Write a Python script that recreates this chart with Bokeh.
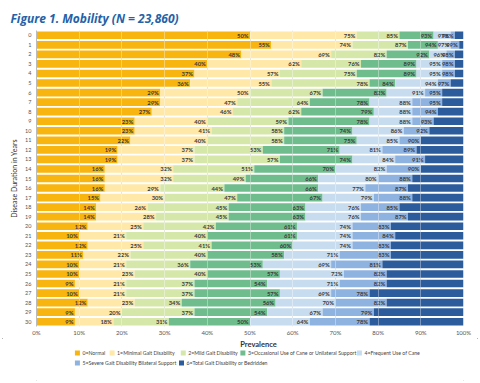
from bokeh.plotting import figure
from bokeh.layouts import column
from bokeh.models import (ColumnDataSource, Range1d, FixedTicker, PrintfTickFormatter, Grid,
                          InlineStyleSheet)
from bokeh.core.properties import value
from bokeh.embed import file_html
from bokeh.resources import INLINE

durations = list(range(31))
categories = ["0=Normal", "1=Minimal Gait Disability", "2=Mild Gait Disability",
              "3=Occasional Use of Cane or Unilateral Support", "4=Frequent Use of Cane",
              "5=Severe Gait Disability Bilateral Support", "6=Total Gait Disability or Bedridden"]
colors = ["#F9B50F", "#FFE8A8", "#D6E8A9", "#6FBD8D", "#C8DCF0", "#8FB3E0", "#2D5C9C"]

# cumulative prevalence (%) at the end of each level, per disease-duration year
cum0 = [50, 55, 48, 40, 37, 36, 29, 29, 27, 23, 23, 22, 19, 19, 16, 16, 16, 15, 14, 14, 12, 10, 12, 11, 10, 10, 9, 10, 12, 9, 9]
cum1 = [75, 74, 69, 62, 57, 55, 50, 47, 46, 40, 41, 40, 37, 37, 32, 32, 29, 30, 26, 28, 25, 21, 25, 22, 21, 23, 21, 21, 23, 20, 18]
cum2 = [85, 87, 82, 76, 75, 78, 67, 64, 62, 59, 58, 58, 53, 57, 51, 49, 44, 47, 45, 45, 42, 40, 41, 40, 36, 40, 37, 37, 34, 37, 31]
cum3 = [93, 94, 92, 89, 89, 84, 82, 78, 79, 78, 74, 75, 71, 74, 70, 66, 66, 67, 63, 63, 61, 61, 60, 58, 53, 57, 54, 57, 56, 54, 50]
cum4 = [97, 97, 96, 95, 95, 94, 91, 88, 88, 88, 86, 85, 81, 84, 82, 80, 77, 79, 76, 76, 74, 74, 74, 71, 69, 72, 71, 69, 70, 67, 64]
cum5 = [98, 99, 98, 98, 98, 97, 95, 95, 94, 93, 92, 90, 89, 91, 90, 88, 87, 88, 85, 87, 83, 84, 83, 83, 81, 82, 82, 78, 82, 79, 78]
cum6 = [100] * 31
x_ticks = [0, 10, 20, 30, 40, 50, 60, 70, 80, 90, 100]

cums = [cum0, cum1, cum2, cum3, cum4, cum5, cum6]
FONT = "Lato"

p = figure(width=480, height=338, output_backend="svg", toolbar_location=None,
           x_range=Range1d(0, 100), y_range=Range1d(30.5, -0.5),
           min_border_left=36, min_border_right=17, min_border_top=30, min_border_bottom=12)
p.outline_line_color = None
p.background_fill_color = "#FFFFFF"

for k in range(7):
    left = [0] * 31 if k == 0 else cums[k - 1]
    src = ColumnDataSource(dict(y=durations, left=left, right=cums[k]))
    p.hbar(y="y", left="left", right="right", height=0.8, source=src,
           fill_color=colors[k], line_color=None)

lx, ly, lt = [], [], []
for k in range(6):
    for i in durations:
        lx.append(cums[k][i])
        ly.append(i)
        lt.append(f"{cums[k][i]}%")
lsrc = ColumnDataSource(dict(x=lx, y=ly, t=lt))
p.text(x="x", y="y", text="t", source=lsrc, text_align="right", text_baseline="middle",
       x_offset=-1.5, text_font=value(FONT), text_font_size="5.8px", text_font_style="bold",
       text_color="#3a3a3a")

# grids
p.ygrid.visible = False
p.xgrid.ticker = FixedTicker(ticks=x_ticks)
p.xgrid.grid_line_color = "#d8d8d8"
over = Grid(dimension=0, ticker=FixedTicker(ticks=x_ticks), grid_line_color="#ffffff",
            grid_line_alpha=0.35, level="overlay")
p.add_layout(over)

# title
p.title.text = "Figure 1. Mobility (N = 23,860)"
p.title.text_font = "Open Sans"
p.title.text_font_size = "12px"
p.title.text_font_style = "bold italic"
p.title.text_color = "#2462A8"
p.title.align = "left"
p.title.offset = -26
p.title.standoff = 8

# axes
p.xaxis.ticker = FixedTicker(ticks=x_ticks)
p.xaxis.formatter = PrintfTickFormatter(format="%d%%")
p.xaxis.axis_line_color = None
p.xaxis.major_tick_line_color = None
p.xaxis.major_tick_out = 0
p.xaxis.major_tick_in = 0
p.xaxis.minor_tick_line_color = None
p.xaxis.major_label_text_font = FONT
p.xaxis.major_label_text_font_size = "6px"
p.xaxis.major_label_text_color = "#555555"
p.xaxis.major_label_standoff = 2

p.yaxis.ticker = FixedTicker(ticks=durations)
p.yaxis.axis_line_color = "#bbbbbb"
p.yaxis.major_tick_line_color = None
p.yaxis.major_tick_out = 0
p.yaxis.major_tick_in = 0
p.yaxis.minor_tick_line_color = None
p.yaxis.major_label_text_font = FONT
p.yaxis.major_label_text_font_size = "5.5px"
p.yaxis.major_label_text_color = "#555555"
p.yaxis.major_label_standoff = 5
p.yaxis.axis_label = "Disease Duration in Years"
p.yaxis.axis_label_text_font = FONT
p.yaxis.axis_label_text_font_size = "7px"
p.yaxis.axis_label_text_font_style = "normal"
p.yaxis.axis_label_text_color = "#333333"
p.yaxis.axis_label_standoff = 4

# lower strip: x-axis title and the two-row legend (coordinates = page pixels)
lg = figure(width=480, height=45, output_backend="svg", toolbar_location=None,
            x_range=Range1d(0, 480), y_range=Range1d(383, 338),
            min_border_left=0, min_border_right=0, min_border_top=0, min_border_bottom=0)
lg.axis.visible = False
lg.grid.visible = False
lg.outline_line_color = None
lg.text(x=[249.5], y=[343.5], text=["Prevalence"], text_align="center", text_baseline="middle",
        text_font=value(FONT), text_font_size="7.5px", text_font_style="bold", text_color="#333333")

leg_x = [46, 85, 165, 232, 363, 46, 163]
leg_y = [352.5, 352.5, 352.5, 352.5, 352.5, 362.5, 362.5]
leg_src = ColumnDataSource(dict(x=leg_x, y=leg_y, c=colors, t=categories))
lg.scatter(x="x", y="y", marker="square", size=5, fill_color="c", line_color=None, source=leg_src)
lg.text(x="x", y="y", text="t", source=leg_src, x_offset=5, text_baseline="middle",
        text_align="left", text_font=value(FONT), text_font_size="5.2px", text_color="#444444")

frame_css = InlineStyleSheet(css=":host { outline: 1px solid #9a9a9a; outline-offset: -3px; }")
layout = column(p, lg, spacing=0, stylesheets=[frame_css])
open("out.html", "w").write(file_html(layout, INLINE))
